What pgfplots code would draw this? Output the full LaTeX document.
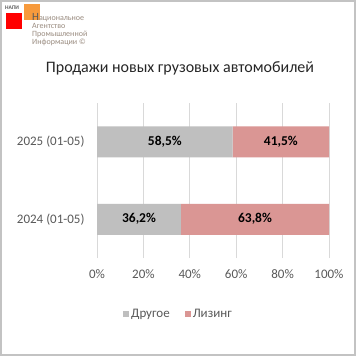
\documentclass[border=0pt]{standalone}
\usepackage{pgfplots}
\pgfplotsset{compat=1.18}
\usepackage{fontspec}
\setmainfont{Carlito}
\definecolor{cgray}{HTML}{BFBFBF}
\definecolor{cpink}{HTML}{DA9694}
\definecolor{gridc}{HTML}{D9D9D9}
\definecolor{txt}{HTML}{595959}
\definecolor{logoorange}{HTML}{F79A3C}
\definecolor{logotxt}{HTML}{9A8C80}
\begin{document}
\begin{tikzpicture}
\useasboundingbox (0,0) rectangle (356bp,-356bp);
\fill[white] (0,0) rectangle (356bp,-356bp);
\draw[gridc!90!black, line width=1.5bp] (0.75bp,-0.75bp) rectangle (355bp,-355bp);
% logo
\fill[red] (6bp,-13bp) rectangle (22bp,-29bp);
\fill[logoorange] (24bp,-4bp) rectangle (40bp,-20bp);
\node[anchor=west, inner sep=0pt, font=\fontsize{5.5bp}{6bp}\selectfont\bfseries, text=txt] at (5bp,-8bp) {НАПИ};
\node[anchor=north west, inner sep=0pt, align=left, font=\fontsize{8bp}{8bp}\selectfont, text=logotxt] at (32bp,-13bp) {{\fontsize{11bp}{8bp}\selectfont\color{txt}Н}ациональное\\Агентство\\Промышленной\\Информации ©};
% title
\node[font=\fontsize{16bp}{18bp}\selectfont, text=black!85] at (180bp,-68bp) {Продажи новых грузовых автомобилей};
\begin{axis}[
  at={(97bp,-258bp)}, anchor=south west,
  width=232bp, height=155bp, scale only axis,
  xbar stacked, bar width=31bp,
  xmin=0, xmax=100, ymin=-0.5, ymax=1.5,
  ytick={0,1}, yticklabels={2024 (01-05), 2025 (01-05)},
  xtick={0,20,...,100},
  xticklabel={\pgfmathprintnumber{\tick}\%},
  /pgf/number format/assume math mode=true,
  axis line style={draw=none}, major tick length=0pt,
  xmajorgrids, grid style={gridc, line width=0.75bp},
  ticklabel style={font=\fontsize{13bp}{15bp}\selectfont, text=txt},
  xticklabel style={yshift=-8bp},
  yticklabel style={xshift=-9bp},
  legend style={at={(0.351,-0.361)}, anchor=center, draw=none, fill=none,
    legend columns=2, font=\fontsize{13bp}{15bp}\selectfont, text=txt,
    /tikz/every even column/.append style={column sep=13bp}},
  legend image code/.code={\fill[#1] (0bp,-3bp) rectangle (6bp,3bp);},
]
\addplot[fill=cgray, draw=none] coordinates {(36.2,0) (58.5,1)};
\addlegendentry{Другое}
\addplot[fill=cpink, draw=none] coordinates {(63.8,0) (41.5,1)};
\addlegendentry{Лизинг}
\end{axis}
\begin{axis}[
  at={(97bp,-258bp)}, anchor=south west,
  width=232bp, height=155bp, scale only axis,
  xmin=0, xmax=100, ymin=-0.5, ymax=1.5, hide axis,
]
\addplot[draw=none, mark=none, nodes near coords, point meta=explicit symbolic,
  every node near coord/.append style={anchor=center, font=\fontsize{13.5bp}{15bp}\selectfont\bfseries, text=black}]
  coordinates {(18.1,0) [36,2\%] (68.1,0) [63,8\%] (29.25,1) [58,5\%] (79.25,1) [41,5\%]};
\end{axis}
\end{tikzpicture}
\end{document}
